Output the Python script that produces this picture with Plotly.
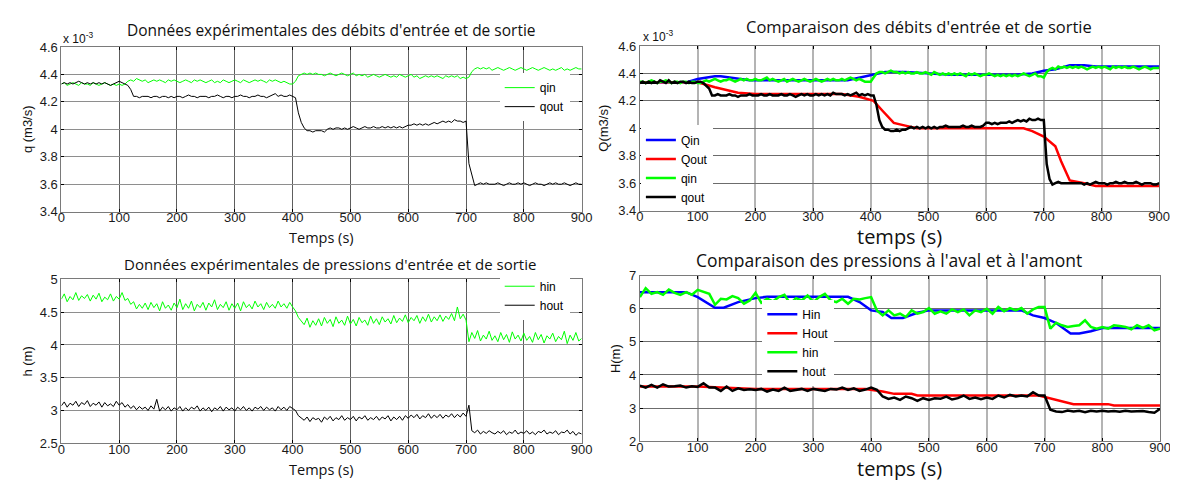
import plotly.graph_objects as go

# ---------------- DATA ----------------
# sampling grid of the experimental records (seconds)
T5 = [5 * i for i in range(181)]      # 0..900 every 5 s
T10 = [10 * i for i in range(91)]     # 0..900 every 10 s
X_TICKS = [0, 100, 200, 300, 400, 500, 600, 700, 800, 900]

# Top-left: experimental flows (x 1e-3 m3/s), every 5 s (rows of 50 s)
qin_exp = [
    4.33, 4.34, 4.32, 4.33, 4.34, 4.33, 4.32, 4.34, 4.33, 4.33,
    4.32, 4.34, 4.33, 4.32, 4.33, 4.34, 4.33, 4.32, 4.33, 4.32,
    4.33, 4.32, 4.33, 4.35, 4.36, 4.35, 4.37, 4.36, 4.35, 4.36,
    4.34, 4.35, 4.36, 4.35, 4.36, 4.35, 4.34, 4.36, 4.35, 4.36,
    4.35, 4.34, 4.35, 4.36, 4.35, 4.34, 4.36, 4.35, 4.36, 4.35,
    4.34, 4.35, 4.36, 4.34, 4.35, 4.34, 4.36, 4.35, 4.34, 4.35,
    4.36, 4.35, 4.34, 4.36, 4.35, 4.34, 4.35, 4.36, 4.35, 4.36,
    4.35, 4.34, 4.36, 4.35, 4.36, 4.35, 4.34, 4.35, 4.34, 4.33,
    4.33, 4.35, 4.39, 4.40, 4.41, 4.40, 4.41, 4.40, 4.41, 4.40,
    4.40, 4.39, 4.40, 4.41, 4.40, 4.39, 4.40, 4.41, 4.40, 4.39,
    4.40, 4.41, 4.39, 4.40, 4.39, 4.40, 4.38, 4.39, 4.40, 4.39,
    4.38, 4.39, 4.40, 4.39, 4.38, 4.39, 4.38, 4.40, 4.39, 4.38,
    4.39, 4.40, 4.38, 4.39, 4.37, 4.38, 4.39, 4.38, 4.39, 4.38,
    4.39, 4.38, 4.37, 4.39, 4.38, 4.39, 4.38, 4.39, 4.37, 4.38,
    4.37, 4.38, 4.42, 4.44, 4.45, 4.44, 4.45, 4.44, 4.45, 4.43,
    4.44, 4.45, 4.44, 4.43, 4.44, 4.45, 4.44, 4.43, 4.44, 4.45,
    4.44, 4.43, 4.44, 4.45, 4.44, 4.43, 4.44, 4.45, 4.44, 4.43,
    4.44, 4.43, 4.44, 4.45, 4.43, 4.44, 4.43, 4.44, 4.45, 4.44,
    4.44,
]
qout_exp = [
    4.33, 4.34, 4.33, 4.34, 4.33, 4.34, 4.35, 4.34, 4.33, 4.34,
    4.33, 4.34, 4.33, 4.34, 4.33, 4.34, 4.33, 4.32, 4.33, 4.34,
    4.35, 4.34, 4.33, 4.32, 4.29, 4.24, 4.24, 4.23, 4.24, 4.24,
    4.24, 4.23, 4.24, 4.24, 4.23, 4.24, 4.24, 4.23, 4.24, 4.23,
    4.24, 4.24, 4.23, 4.24, 4.25, 4.24, 4.24, 4.23, 4.24, 4.24,
    4.24, 4.23, 4.24, 4.24, 4.25, 4.24, 4.23, 4.24, 4.24, 4.23,
    4.24, 4.24, 4.25, 4.24, 4.24, 4.23, 4.24, 4.24, 4.25, 4.24,
    4.24, 4.23, 4.24, 4.25, 4.26, 4.24, 4.25, 4.24, 4.24, 4.25,
    4.24, 4.23, 4.12, 4.05, 4.01, 3.99, 3.99, 3.98, 3.99, 3.99,
    3.99, 3.98, 4.00, 4.01, 4.00, 4.01, 4.01, 4.00, 4.01, 4.00,
    4.01, 4.02, 4.01, 4.00, 4.01, 4.02, 4.01, 4.01, 4.02, 4.01,
    4.01, 4.02, 4.01, 4.02, 4.01, 4.02, 4.01, 4.02, 4.01, 4.02,
    4.03, 4.03, 4.04, 4.03, 4.04, 4.03, 4.04, 4.03, 4.04, 4.05,
    4.04, 4.05, 4.06, 4.05, 4.06, 4.05, 4.07, 4.06, 4.06, 4.05,
    4.06, 3.75, 3.66, 3.59, 3.60, 3.61, 3.60, 3.61, 3.60, 3.60,
    3.60, 3.61, 3.60, 3.59, 3.60, 3.61, 3.60, 3.60, 3.61, 3.60,
    3.61, 3.60, 3.59, 3.60, 3.61, 3.60, 3.60, 3.59, 3.60, 3.61,
    3.60, 3.61, 3.60, 3.60, 3.61, 3.60, 3.59, 3.60, 3.61, 3.60,
    3.60,
]

# Bottom-left: experimental heads (m), every 5 s
hin_exp = [
    4.70, 4.78, 4.66, 4.74, 4.69, 4.80, 4.68, 4.75, 4.71, 4.77,
    4.67, 4.76, 4.70, 4.79, 4.66, 4.73, 4.69, 4.78, 4.67, 4.74,
    4.70, 4.80, 4.68, 4.71, 4.62, 4.66, 4.55, 4.62, 4.56, 4.64,
    4.54, 4.65, 4.57, 4.63, 4.52, 4.66, 4.56, 4.61, 4.53, 4.64,
    4.57, 4.70, 4.54, 4.63, 4.56, 4.67, 4.52, 4.62, 4.57, 4.65,
    4.53, 4.64, 4.58, 4.69, 4.54, 4.62, 4.57, 4.66, 4.53, 4.63,
    4.56, 4.64, 4.52, 4.66, 4.57, 4.62, 4.55, 4.67, 4.58, 4.63,
    4.54, 4.65, 4.57, 4.62, 4.56, 4.67, 4.58, 4.63, 4.56, 4.65,
    4.58, 4.52, 4.42, 4.36, 4.31, 4.41, 4.27, 4.37, 4.30, 4.40,
    4.29, 4.42, 4.33, 4.39, 4.28, 4.43, 4.33, 4.38, 4.30, 4.44,
    4.32, 4.39, 4.29, 4.42, 4.34, 4.38, 4.30, 4.44, 4.33, 4.40,
    4.31, 4.43, 4.35, 4.40, 4.32, 4.45, 4.34, 4.41, 4.36, 4.46,
    4.34, 4.42, 4.37, 4.45, 4.33, 4.43, 4.36, 4.47, 4.35, 4.43,
    4.37, 4.46, 4.36, 4.44, 4.39, 4.48, 4.37, 4.58, 4.40, 4.47,
    4.38, 4.05, 4.19, 4.10, 4.22, 4.06, 4.15, 4.09, 4.21, 4.07,
    4.14, 4.05, 4.19, 4.08, 4.16, 4.04, 4.20, 4.09, 4.15, 4.06,
    4.18, 4.07, 4.13, 4.04, 4.19, 4.08, 4.16, 4.03, 4.14, 4.09,
    4.18, 4.05, 4.13, 4.08, 4.21, 4.02, 4.15, 4.07, 4.19, 4.06,
    4.10,
]
hout_exp = [
    3.07, 3.13, 3.05, 3.11, 3.08, 3.14, 3.06, 3.12, 3.09, 3.15,
    3.06, 3.11, 3.08, 3.13, 3.05, 3.12, 3.07, 3.10, 3.06, 3.14,
    3.08, 3.12, 3.05, 3.09, 3.03, 3.07, 3.01, 3.06, 3.02, 3.05,
    3.00, 3.07, 3.02, 3.17, 2.99, 3.05, 3.01, 3.06, 2.99, 3.04,
    3.01, 3.06, 2.99, 3.04, 3.00, 3.05, 3.02, 3.07, 2.99, 3.04,
    3.00, 3.05, 2.98, 3.04, 3.01, 3.06, 2.99, 3.05, 3.01, 3.04,
    2.99, 3.05, 3.01, 3.06, 3.00, 3.04, 2.99, 3.05, 3.02, 3.06,
    3.00, 3.05, 3.01, 3.04, 2.99, 3.06, 3.01, 3.05, 3.00, 3.06,
    3.03, 3.00, 2.92, 2.88, 2.85, 2.90, 2.83, 2.89, 2.86, 2.88,
    2.82, 2.90, 2.86, 2.91, 2.84, 2.89, 2.86, 2.92, 2.85, 2.89,
    2.86, 2.91, 2.84, 2.90, 2.87, 2.92, 2.85, 2.89, 2.86, 2.91,
    2.85, 2.90, 2.87, 2.92, 2.84, 2.90, 2.86, 2.91, 2.85, 2.92,
    2.88, 2.93, 2.89, 2.94, 2.87, 2.92, 2.89, 2.95, 2.88, 2.93,
    2.89, 2.94, 2.88, 2.93, 2.90, 2.95, 2.89, 2.94, 2.90, 2.96,
    2.91, 3.08, 2.69, 2.66, 2.70, 2.64, 2.68, 2.65, 2.69, 2.66,
    2.64, 2.68, 2.65, 2.69, 2.63, 2.67, 2.65, 2.70, 2.64, 2.67,
    2.65, 2.69, 2.64, 2.67, 2.63, 2.68, 2.66, 2.70, 2.64, 2.67,
    2.65, 2.69, 2.63, 2.67, 2.66, 2.70, 2.64, 2.68, 2.62, 2.66,
    2.64,
]

# Top-right: experimental flows used for comparison (x 1e-3), every 5 s
qin_cmp = [
    4.34, 4.34, 4.33, 4.34, 4.35, 4.34, 4.33, 4.34, 4.34, 4.35,
    4.34, 4.33, 4.34, 4.34, 4.33, 4.34, 4.34, 4.33, 4.34, 4.34,
    4.33, 4.33, 4.34, 4.35, 4.34, 4.35, 4.36, 4.35, 4.34, 4.35,
    4.35, 4.36, 4.35, 4.34, 4.35, 4.36, 4.35, 4.36, 4.35, 4.35,
    4.36, 4.35, 4.35, 4.36, 4.37, 4.35, 4.36, 4.35, 4.34, 4.35,
    4.36, 4.34, 4.35, 4.36, 4.35, 4.34, 4.35, 4.36, 4.35, 4.34,
    4.35, 4.36, 4.35, 4.34, 4.35, 4.36, 4.35, 4.36, 4.35, 4.35,
    4.36, 4.35, 4.36, 4.37, 4.36, 4.35, 4.36, 4.35, 4.34, 4.34,
    4.34, 4.37, 4.40, 4.41, 4.41, 4.40, 4.41, 4.42, 4.41, 4.41,
    4.40, 4.41, 4.40, 4.41, 4.40, 4.40, 4.41, 4.40, 4.40, 4.41,
    4.40, 4.39, 4.41, 4.40, 4.39, 4.40, 4.39, 4.40, 4.39, 4.40,
    4.39, 4.40, 4.39, 4.38, 4.40, 4.39, 4.40, 4.39, 4.38, 4.39,
    4.39, 4.40, 4.39, 4.38, 4.39, 4.38, 4.39, 4.38, 4.39, 4.38,
    4.39, 4.38, 4.39, 4.40, 4.39, 4.38, 4.39, 4.40, 4.38, 4.38,
    4.37, 4.41, 4.43, 4.44, 4.43, 4.45, 4.44, 4.45, 4.44, 4.45,
    4.44, 4.45, 4.44, 4.45, 4.44, 4.43, 4.44, 4.45, 4.44, 4.45,
    4.44, 4.45, 4.44, 4.43, 4.45, 4.44, 4.45, 4.44, 4.45, 4.44,
    4.44, 4.45, 4.44, 4.43, 4.44, 4.45, 4.44, 4.43, 4.44, 4.44,
    4.44,
]
qout_cmp = [
    4.33, 4.34, 4.33, 4.34, 4.33, 4.34, 4.33, 4.35, 4.34, 4.33,
    4.35, 4.33, 4.34, 4.33, 4.34, 4.34, 4.33, 4.34, 4.33, 4.33,
    4.34, 4.34, 4.33, 4.31, 4.29, 4.24, 4.24, 4.25, 4.24, 4.24,
    4.24, 4.25, 4.24, 4.24, 4.23, 4.24, 4.24, 4.24, 4.25, 4.24,
    4.24, 4.24, 4.25, 4.24, 4.24, 4.25, 4.24, 4.24, 4.24, 4.25,
    4.24, 4.24, 4.25, 4.24, 4.23, 4.24, 4.25, 4.24, 4.25, 4.24,
    4.24, 4.25, 4.24, 4.25, 4.24, 4.25, 4.24, 4.26, 4.25, 4.25,
    4.25, 4.24, 4.25, 4.24, 4.25, 4.26, 4.24, 4.25, 4.24, 4.25,
    4.24, 4.24, 4.17, 4.06, 4.01, 3.99, 3.99, 3.98, 3.98, 3.99,
    3.98, 3.99, 3.99, 4.00, 4.01, 4.00, 4.01, 4.00, 4.01, 4.00,
    4.01, 4.00, 4.01, 4.00, 4.01, 4.01, 4.02, 4.01, 4.01, 4.01,
    4.01, 4.01, 4.02, 4.01, 4.01, 4.02, 4.01, 4.01, 4.01, 4.02,
    4.04, 4.04, 4.03, 4.04, 4.03, 4.04, 4.04, 4.04, 4.05, 4.04,
    4.05, 4.06, 4.05, 4.06, 4.05, 4.07, 4.06, 4.06, 4.07, 4.06,
    4.06, 3.74, 3.63, 3.59, 3.60, 3.61, 3.60, 3.60, 3.60, 3.60,
    3.60, 3.60, 3.60, 3.60, 3.59, 3.60, 3.59, 3.60, 3.61, 3.60,
    3.60, 3.60, 3.59, 3.60, 3.60, 3.61, 3.60, 3.60, 3.61, 3.60,
    3.60, 3.60, 3.61, 3.60, 3.59, 3.60, 3.60, 3.60, 3.59, 3.59,
    3.60,
]
# Top-right: model flows (x 1e-3)
Qin_t = [0, 80, 100, 130, 140, 160, 190, 360, 380, 400, 425, 460, 500, 540, 650, 680, 700, 720, 745, 770, 790, 900]
Qin_v = [4.335, 4.335, 4.36, 4.38, 4.38, 4.37, 4.35, 4.35, 4.37, 4.39, 4.41, 4.41, 4.40, 4.39, 4.39, 4.40, 4.42, 4.43, 4.46, 4.46, 4.45, 4.45]
Qout_t = [0, 100, 130, 170, 200, 350, 380, 405, 420, 440, 460, 480, 665, 680, 700, 720, 730, 745, 770, 790, 900]
Qout_v = [4.335, 4.335, 4.30, 4.26, 4.25, 4.25, 4.23, 4.20, 4.13, 4.04, 4.02, 4.00, 4.00, 3.98, 3.94, 3.87, 3.76, 3.62, 3.60, 3.58, 3.58]

# Bottom-right: experimental heads, every 10 s
hin_cmp = [
    6.35, 6.62, 6.45, 6.50, 6.42, 6.58, 6.48, 6.42, 6.50, 6.42,
    6.57, 6.52, 6.45, 6.12, 6.30, 6.28, 6.38, 6.32, 6.15, 6.25,
    6.48, 6.18, 6.30, 6.22, 6.35, 6.42, 6.15, 6.32, 6.25, 6.40,
    6.20, 6.35, 6.45, 6.25, 6.20, 6.30, 6.15, 6.30, 6.28, 6.32,
    6.35, 5.95, 5.80, 5.95, 5.80, 5.85, 5.75, 5.95, 5.85, 5.90,
    6.02, 5.85, 5.92, 5.85, 5.98, 5.90, 5.98, 5.80, 5.95, 5.90,
    6.00, 5.85, 6.05, 5.92, 6.02, 5.95, 6.02, 5.85, 5.98, 6.05,
    6.05, 5.40, 5.58, 5.50, 5.45, 5.48, 5.50, 5.65, 5.45, 5.40,
    5.45, 5.40, 5.50, 5.48, 5.45, 5.38, 5.50, 5.42, 5.50, 5.35,
    5.40,
]
hout_cmp = [
    3.68, 3.62, 3.70, 3.62, 3.72, 3.65, 3.66, 3.68, 3.62, 3.66,
    3.64, 3.75, 3.62, 3.62, 3.52, 3.65, 3.52, 3.60, 3.55, 3.57,
    3.55, 3.58, 3.50, 3.56, 3.52, 3.62, 3.52, 3.56, 3.58, 3.52,
    3.58, 3.55, 3.52, 3.58, 3.56, 3.62, 3.55, 3.60, 3.52, 3.56,
    3.62, 3.55, 3.35, 3.28, 3.32, 3.25, 3.35, 3.30, 3.22, 3.30,
    3.25, 3.30, 3.28, 3.35, 3.26, 3.30, 3.38, 3.28, 3.32, 3.27,
    3.32, 3.28, 3.38, 3.32, 3.40, 3.35, 3.38, 3.35, 3.48, 3.38,
    3.38, 2.95, 2.90, 2.88, 2.93, 2.90, 2.92, 2.88, 2.92, 2.90,
    2.92, 2.90, 2.91, 2.89, 2.92, 2.90, 2.90, 2.91, 2.88, 2.86,
    2.98,
]
# Bottom-right: model heads
Hin_t = [0, 80, 100, 130, 145, 170, 200, 220, 360, 380, 400, 420, 435, 455, 480, 500, 660, 680, 700, 720, 745, 760, 780, 800, 900]
Hin_v = [6.5, 6.5, 6.35, 6.03, 6.03, 6.2, 6.32, 6.36, 6.36, 6.2, 5.95, 5.9, 5.72, 5.72, 5.88, 5.95, 5.95, 5.8, 5.72, 5.57, 5.25, 5.25, 5.32, 5.42, 5.42]
Hout_t = [0, 100, 200, 390, 420, 440, 470, 480, 690, 710, 730, 750, 810, 820, 900]
Hout_v = [3.65, 3.65, 3.58, 3.58, 3.5, 3.43, 3.43, 3.38, 3.38, 3.3, 3.2, 3.12, 3.12, 3.08, 3.08]

TITLES = [
    "Données expérimentales des débits d'entrée et de sortie",
    "Comparaison des débits d'entrée et de sortie",
    "Données expérimentales de pressions d'entrée et de sortie",
    "Comparaison des pressions à l'aval et à l'amont",
]

# ---------------- FIGURE ----------------
W, H = 1178, 480
GREEN, BLACK, BLUE, RED = "#00ff00", "#000000", "#0000ff", "#ff0000"
FONT = "Liberation Sans, Arial, sans-serif"
TFONT = "Open Sans, DejaVu Sans, sans-serif"


def px(x):
    return x / W


def py(y):
    return 1 - y / H


fig = go.Figure()

def add(x, y, color, name, width, axis, legend):
    fig.add_trace(go.Scatter(x=x, y=y, mode="lines", name=name,
                             line=dict(color=color, width=width),
                             xaxis="x" + axis, yaxis="y" + axis,
                             legend=legend, showlegend=True))

# top-left
add(T5, qin_exp, GREEN, "qin", 1, "", "legend")
add(T5, qout_exp, BLACK, "qout", 1, "", "legend")
# top-right
add(Qin_t, Qin_v, BLUE, "Qin", 2.5, "2", "legend2")
add(Qout_t, Qout_v, RED, "Qout", 2.5, "2", "legend2")
add(T5, qin_cmp, GREEN, "qin", 2.5, "2", "legend2")
add(T5, qout_cmp, BLACK, "qout", 2.5, "2", "legend2")
# bottom-left
add(T5, hin_exp, GREEN, "hin", 1, "3", "legend3")
add(T5, hout_exp, BLACK, "hout", 1, "3", "legend3")
# bottom-right
add(Hin_t, Hin_v, BLUE, "Hin", 2.5, "4", "legend4")
add(Hout_t, Hout_v, RED, "Hout", 2.5, "4", "legend4")
add(T10, hin_cmp, GREEN, "hin", 2.5, "4", "legend4")
add(T10, hout_cmp, BLACK, "hout", 2.5, "4", "legend4")

axis_common = dict(showgrid=True, gridwidth=1, zeroline=False,
                   showline=True, linecolor="#7a7a7a", linewidth=1, mirror="ticks",
                   ticks="inside", ticklen=3, tickcolor="#000",
                   tickfont=dict(family=FONT, size=13, color="#1a1a1a"))

panels = {
    "": dict(x=(50, 577), y=(33, 203), yr=[3.4, 4.6], dy=0.2, gx="#5e5e5e", gy="#8e8e8e", wx=1),
    "2": dict(x=(636, 1162), y=(32, 202), yr=[3.4, 4.6], dy=0.2, gx="#b4b4b4", gy="#6c6c6c", wx=1.5),
    "3": dict(x=(50, 577), y=(273, 442), yr=[2.5, 5], dy=0.5, gx="#5e5e5e", gy="#8e8e8e", wx=1),
    "4": dict(x=(636, 1163), y=(269, 440), yr=[2, 7], dy=1, gx="#b4b4b4", gy="#6c6c6c", wx=1.5),
}
lay = {}
for k, p in panels.items():
    lay["xaxis" + k] = dict(axis_common, domain=[px(p["x"][0]), px(p["x"][1])],
                           range=[0, 900], tickvals=X_TICKS, anchor="y" + k,
                           gridcolor=p["gx"], gridwidth=p["wx"], ticklabelstandoff=-6)
    lay["yaxis" + k] = dict(axis_common, domain=[py(p["y"][1]), py(p["y"][0])],
                           range=p["yr"], dtick=p["dy"], anchor="x" + k,
                           gridcolor=p["gy"])

leg_common = dict(bgcolor="white", borderwidth=0, font=dict(family=FONT, size=12, color="#000"),
                  xref="paper", yref="paper", itemwidth=30, tracegroupgap=0,
                  xanchor="left", yanchor="top")
lay["legend"] = dict(leg_common, x=px(494), y=py(60))
lay["legend2"] = dict(leg_common, x=px(637), y=py(114))
lay["legend3"] = dict(leg_common, x=px(494), y=py(265))
lay["legend4"] = dict(leg_common, x=px(760), y=py(294))

ann = []
def txt(x, y, s, size, family=TFONT, angle=0, xanchor="center"):
    ann.append(dict(x=px(x), y=py(y), xref="paper", yref="paper", text=s, showarrow=False,
                    font=dict(family=family, size=size, color="#111"), textangle=angle,
                    xanchor=xanchor, yanchor="middle"))

txt(324, 16, TITLES[0], 15.5)
txt(919, 12, TITLES[1], 16.5)
txt(322, 257, TITLES[2], 15)
txt(888, 253, TITLES[3], 17.5)
txt(313, 230, "Temps (s)", 14.5)
txt(899, 229, "temps (s)", 20)
txt(313, 469, "Temps (s)", 14.5)
txt(899, 468, "temps (s)", 20)
txt(16, 118, "q (m3/s)", 13, FONT, -90)
txt(599, 117, "Q(m3/s)", 13, FONT, -90)
txt(16, 358, "h (m)", 13, FONT, -90)
txt(612, 355, "H(m)", 13, FONT, -90)
txt(50, 24, "x 10<sup>-3</sup>", 12, FONT, 0, "left")
txt(637, 22, "x 10<sup>-3</sup>", 12, FONT, 0, "left")

fig.update_layout(width=W, height=H, margin=dict(l=0, r=0, t=0, b=0),
                  paper_bgcolor="white", plot_bgcolor="white",
                  annotations=ann, **lay)

fig.write_html("out.html")
